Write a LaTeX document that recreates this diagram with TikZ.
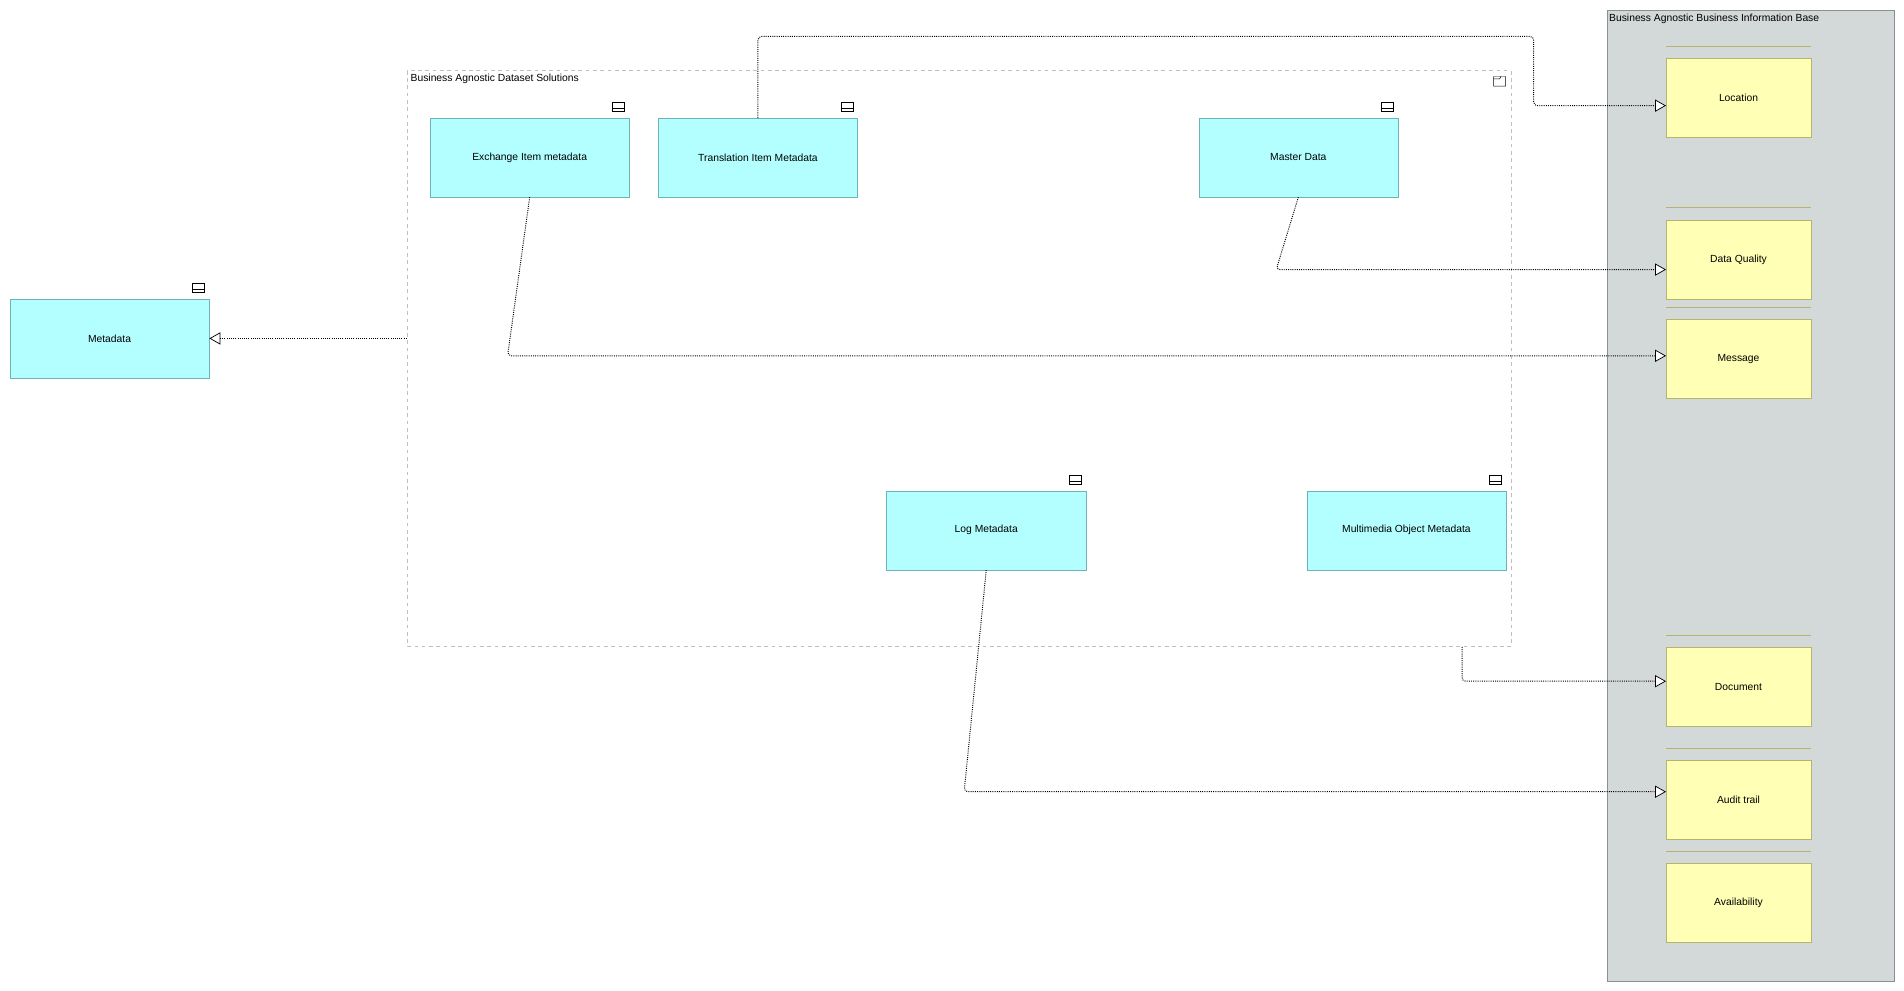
\documentclass[tikz,border=0pt]{standalone}
\usepackage{fontspec}
\setmainfont{Liberation Sans}
\usetikzlibrary{arrows.meta}
\definecolor{cy}{HTML}{B3FFFF}
\definecolor{cyb}{HTML}{6FB3B8}
\definecolor{ye}{HTML}{FFFFB5}
\definecolor{yeb}{HTML}{B5B56E}
\definecolor{pan}{HTML}{D3D8D8}
\definecolor{panb}{HTML}{8A8F8F}
\begin{document}
\begin{tikzpicture}[x=1pt,y=-1pt,font=\fontsize{8.5}{10}\selectfont,
 app/.style={draw=cyb,fill=cy,minimum width=164pt,minimum height=65pt,inner sep=0pt},
 obj/.style={draw=yeb,fill=ye,minimum width=119pt,minimum height=65pt,inner sep=0pt},
 con/.style={densely dotted,thick,rounded corners=3pt},
 arr/.style={con,-{Triangle[open,fill=white,length=9pt,width=10pt,line width=0.6pt]}}]
\useasboundingbox (0,0) rectangle (1568,816);
% panel
\node[draw=panb,fill=pan,minimum width=237pt,minimum height=800pt,inner sep=0pt,anchor=north west] (panel) at (1323,8) {};
\node[anchor=north west,inner sep=2pt] (pl) at (1323,9) {Business Agnostic Business Information Base};
% group
\node[draw=black!25,dashed,thick,minimum width=909pt,minimum height=474pt,inner sep=0pt,anchor=north west] (grp) at (335,58) {};
\node[anchor=north west,inner sep=2pt] (gl) at (336,59) {Business Agnostic Dataset Solutions};
\draw (1230,63) rectangle (1240,71) (1230,65) -- (1235,65) -- (1236,63);
% app boxes
\newcommand{\appicon}[1]{\draw ([xshift=-14pt,yshift=5pt]#1.north east) rectangle ([xshift=-4pt,yshift=13pt]#1.north east); \draw ([xshift=-14pt,yshift=8pt]#1.north east) -- ([xshift=-4pt,yshift=8pt]#1.north east);}
\node[app,anchor=north west] (meta) at (8,246) {Metadata}; \appicon{meta}
\node[app,anchor=north west] (exch) at (354,97) {Exchange Item metadata}; \appicon{exch}
\node[app,anchor=north west] (trans) at (542,97) {Translation Item Metadata}; \appicon{trans}
\node[app,anchor=north west] (master) at (987,97) {Master Data}; \appicon{master}
\node[app,anchor=north west] (log) at (730,404) {Log Metadata}; \appicon{log}
\node[app,anchor=north west] (mm) at (1076,404) {Multimedia Object Metadata}; \appicon{mm}
% objects
\newcommand{\objline}[1]{\draw[yeb] ([yshift=10pt]#1.north west) -- ([yshift=10pt]#1.north east);}
\node[obj,anchor=north west] (loc) at (1372,48) {Location}; \objline{loc}
\node[obj,anchor=north west] (dq) at (1372,181) {Data Quality}; \objline{dq}
\node[obj,anchor=north west] (msg) at (1372,263) {Message}; \objline{msg}
\node[obj,anchor=north west] (doc) at (1372,533) {Document}; \objline{doc}
\node[obj,anchor=north west] (aud) at (1372,626) {Audit trail}; \objline{aud}
\node[obj,anchor=north west] (av) at (1372,711) {Availability}; \objline{av}
% connectors
\draw[arr] (grp.west |- meta.east) -- (meta.east);
\draw[arr] (trans.north) -- ++(0,-67) -- (1263,30) -- (1263,87) -- (loc.west |- 0,87);
\draw[arr] (master.south) -- (1051,222) -- (dq.west |- 0,222);
\draw[arr] (exch.south) -- (418,293) -- (msg.west |- 0,293);
\draw[arr] (grp.south -| 1204,0) -- (1204,561) -- (doc.west |- 0,561);
\draw[arr] (log.south) -- (794,652) -- (aud.west |- 0,652);
\end{tikzpicture}
\end{document}
